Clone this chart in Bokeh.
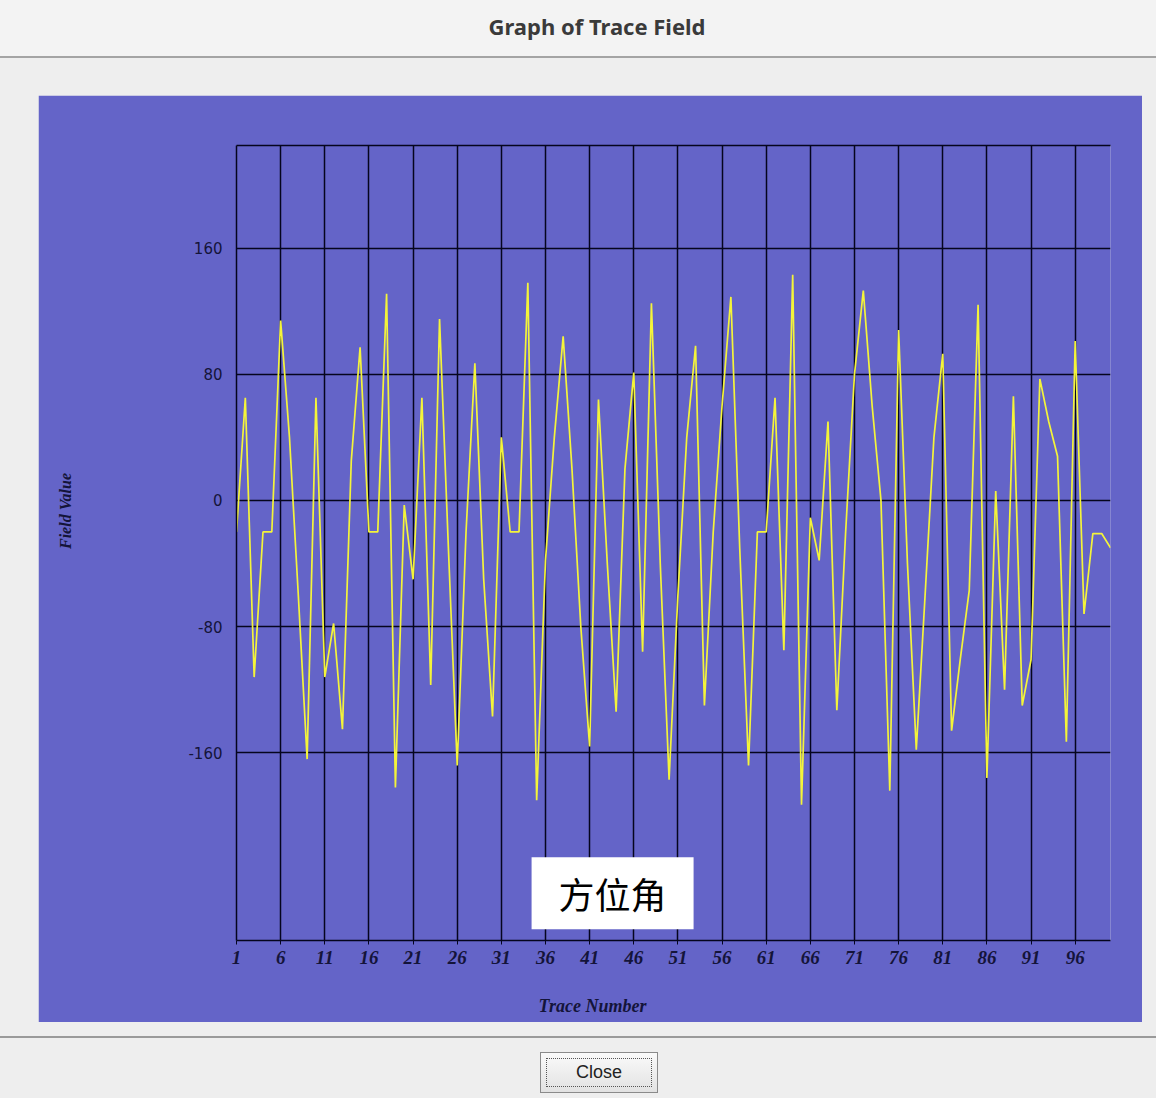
from bokeh.plotting import figure
from bokeh.models import Range1d, FixedTicker, LinearAxis, Label, Div, CustomJSTickFormatter
from bokeh.layouts import column
from bokeh.embed import file_html
from bokeh.resources import INLINE

# ---- data ----
trace_numbers = list(range(1, 101))
field_values = [
    -20, 65, -112, -20, -20, 114, 40, -60, -164, 65,
    -112, -78, -145, 25, 97, -20, -20, 131, -182, -3,
    -50, 65, -117, 115, -30, -168, -20, 87, -50, -137,
    40, -20, -20, 138, -190, -38, 40, 104, 20, -80,
    -156, 64, -40, -134, 20, 81, -96, 125, -40, -177,
    -60, 40, 98, -130, -20, 60, 129, -30, -168, -20,
    -20, 65, -95, 143, -193, -11, -38, 50, -133, -20,
    80, 133, 60, 0, -184, 108, -40, -158, -60, 40,
    93, -146, -100, -57, 124, -176, 6, -120, 66, -130,
    -101, 77, 50, 28, -153, 101, -72, -21, -21, -30,
]
x_tick_values = [1, 6, 11, 16, 21, 26, 31, 36, 41, 46, 51, 56, 61, 66, 71, 76, 81, 86, 91, 96]
y_tick_values = [-160, -80, 0, 80, 160]
x_title = "Trace Number"
y_title = "Field Value"
annotation_text = "方位角"

BLUE = "#6464c8"
GRIDC = "#05051e"
LABC = "#14143a"
EM = "\u2003"

p = figure(width=1104, height=927, output_backend="svg", toolbar_location=None,
           x_range=Range1d(1, 100), y_range=Range1d(-279, 225),
           min_border_left=198, min_border_right=32, min_border_top=50, min_border_bottom=82,
           background_fill_color=BLUE, border_fill_color=BLUE, outline_line_color=None)
p.margin = (37, 6, 14, 38)

p.line(trace_numbers, field_values, line_color="#f4f43a", line_width=1.7)

# axes
xa = p.xaxis[0]
xa.ticker = FixedTicker(ticks=x_tick_values)
xa.axis_line_color = GRIDC
xa.axis_line_width = 1.5
xa.major_tick_line_color = GRIDC
xa.major_tick_out = 4
xa.major_tick_in = 0
xa.minor_tick_line_color = None
xa.major_label_standoff = 6
xa.major_label_text_font = "Liberation Serif"
xa.major_label_text_font_style = "bold italic"
xa.major_label_text_font_size = "19px"
xa.major_label_text_color = LABC
# trailing em spaces shift the centred label left, as in the original dialog
xa.axis_label = x_title + EM * 9
xa.axis_label_standoff = 29
xa.axis_label_text_font = "Liberation Serif"
xa.axis_label_text_font_style = "bold italic"
xa.axis_label_text_font_size = "18px"
xa.axis_label_text_color = LABC

ya = p.yaxis[0]
ya.ticker = FixedTicker(ticks=y_tick_values)
ya.formatter = CustomJSTickFormatter(code="return tick.toFixed(0);")
ya.axis_line_color = GRIDC
ya.axis_line_width = 1.5
ya.major_tick_line_color = None
ya.minor_tick_line_color = None
ya.major_label_standoff = 8
ya.major_label_text_font = "DejaVu Sans"
ya.major_label_text_font_size = "15px"
ya.major_label_text_color = LABC
ya.axis_label = EM * 4 + y_title
ya.axis_label_standoff = 111
ya.axis_label_text_font = "Liberation Serif"
ya.axis_label_text_font_style = "bold italic"
ya.axis_label_text_font_size = "16px"
ya.axis_label_text_color = LABC

top_axis = LinearAxis(ticker=FixedTicker(ticks=[]), major_tick_line_color=None,
                      minor_tick_line_color=None, axis_line_color=GRIDC, axis_line_width=1.5)
p.add_layout(top_axis, "above")

p.xgrid.ticker = FixedTicker(ticks=x_tick_values)
p.ygrid.ticker = FixedTicker(ticks=y_tick_values)
p.grid.grid_line_color = GRIDC
p.grid.grid_line_width = 1.5

p.add_layout(Label(x=43.6, y=-249, text=annotation_text, text_font="Noto Sans CJK SC",
                   text_font_size="36px", text_color="#000000",
                   text_align="center", text_baseline="middle",
                   background_fill_color="#ffffff", padding=(27, 10)))

title_div = Div(width=1156, height=58, margin=0, text=(
    '<div style="width:1156px;height:58px;background:#f3f3f3;border-bottom:2px solid #a4a4a4;'
    'box-sizing:border-box;display:flex;align-items:center;justify-content:center;'
    'padding-bottom:2px;padding-left:38px;font-family:\'Noto Sans\';font-weight:bold;'
    'font-size:22px;color:#3a3a3a;">Graph of Trace Field</div>'))

bottom_div = Div(width=1156, height=62, margin=0, text=(
    '<div style="position:relative;width:1156px;height:62px;background:#eeeeee;'
    'border-top:2px solid #9a9a9a;box-sizing:border-box;">'
    '<div style="position:absolute;left:540px;top:14px;width:118px;height:41px;'
    'border:1px solid #8a8a8a;background:linear-gradient(#fafafa,#e2e2e2);box-sizing:border-box;'
    'display:flex;align-items:center;justify-content:center;">'
    '<div style="border:1px dotted #555;width:106px;height:29px;display:flex;align-items:center;'
    'justify-content:center;font-family:\'Liberation Sans\';font-size:18px;color:#222;">Close</div>'
    '</div></div>'))

root = column(title_div, p, bottom_div, spacing=0, styles={"background-color": "#eeeeee"})

open("out.html", "w").write(file_html(root, INLINE))
